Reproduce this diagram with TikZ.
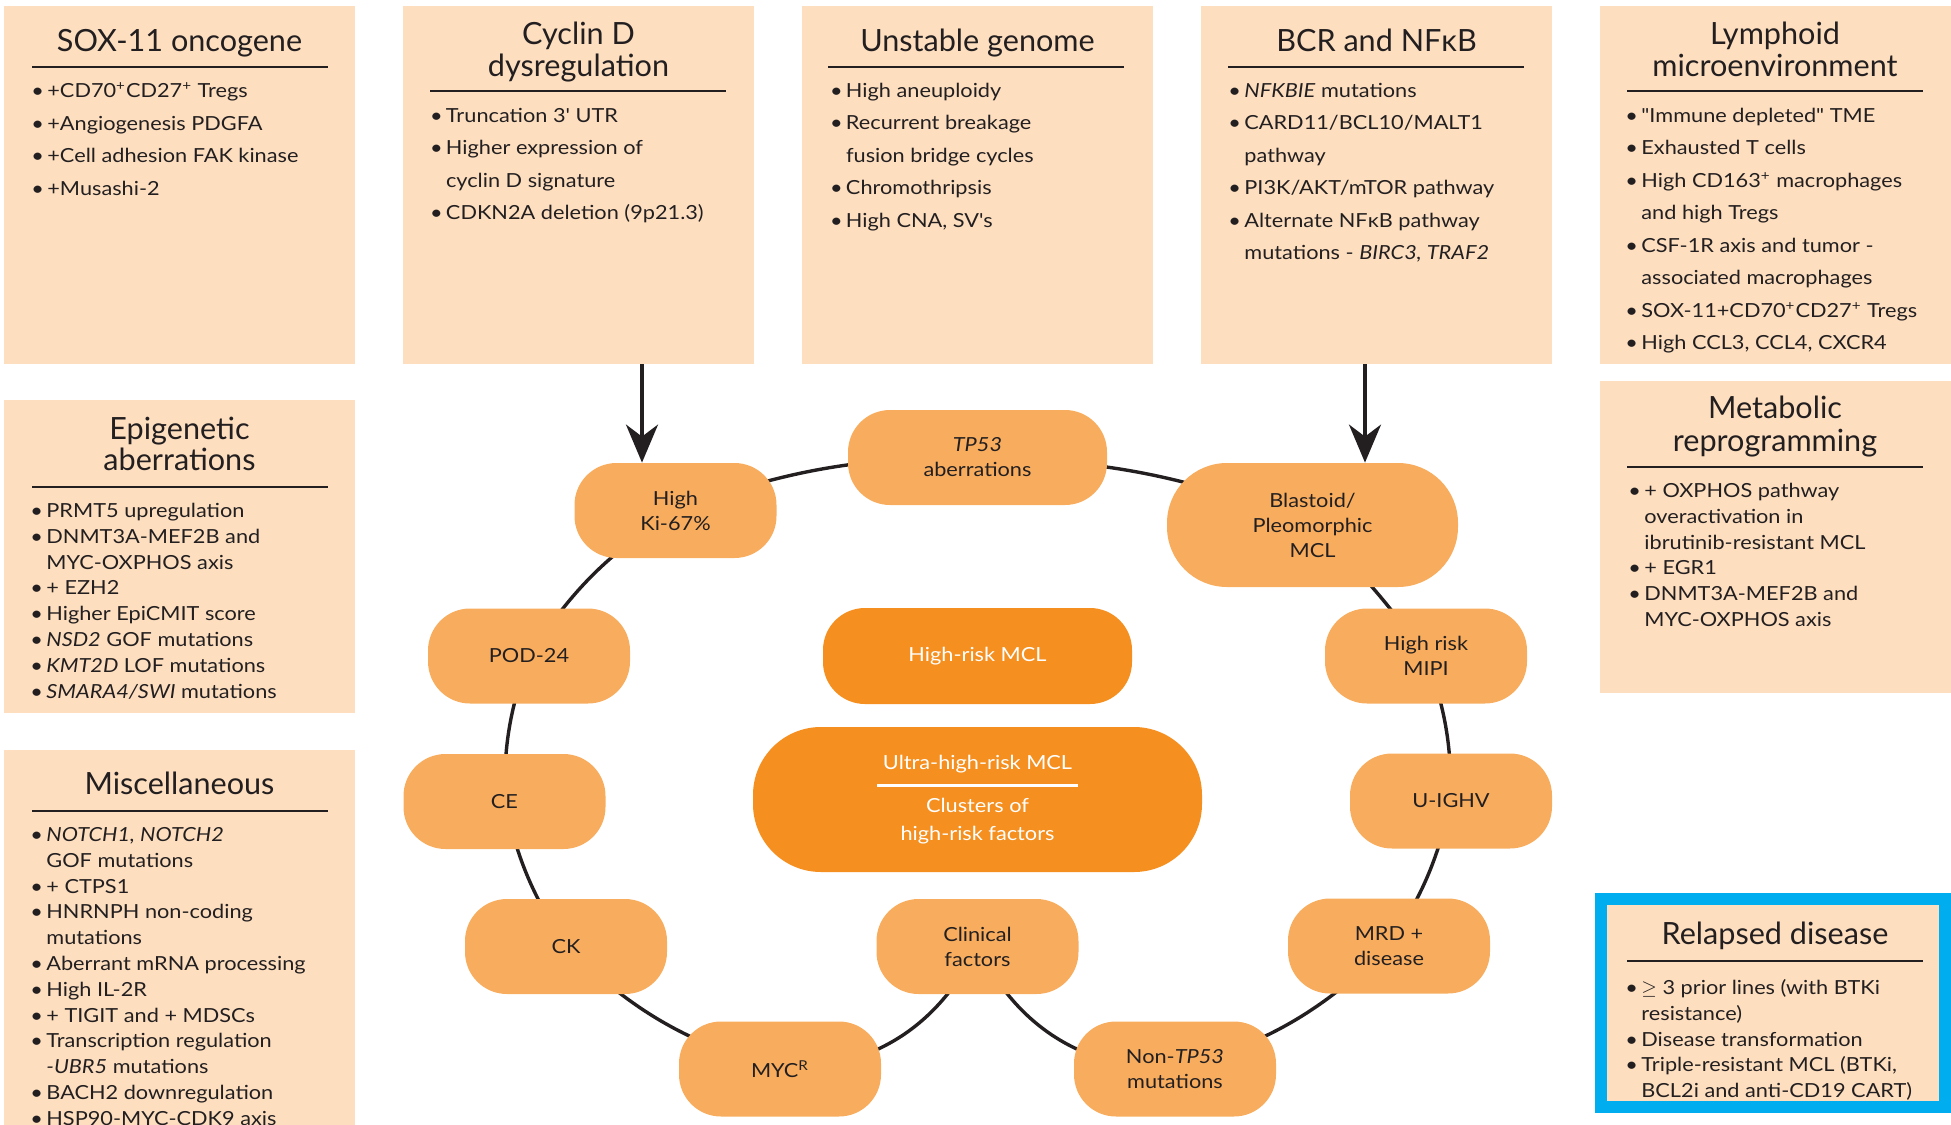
\documentclass[tikz,border=0pt]{standalone}
\usepackage{fontspec}
\setmainfont{Lato}
\newfontfamily\bodyfont{Lato}[FakeStretch=1.12]
\usetikzlibrary{arrows.meta,positioning,backgrounds}
\definecolor{panelbg}{HTML}{FDDFC0}
\definecolor{ringfill}{HTML}{F8AD5E}
\definecolor{corefill}{HTML}{F58F1F}
\definecolor{inkdark}{HTML}{231F20}
\definecolor{relapseblue}{HTML}{00AEEF}
\newcommand{\itembul}{\rule{0pt}{7.5pt}\makebox[8pt][l]{\textbullet}}
\newcommand{\itemcont}{\hspace*{8pt}}
\newcommand{\ttlstrut}{\rule{0pt}{12pt}}
\tikzset{
  panel/.style={fill=panelbg,anchor=north west,minimum width=175.5pt,inner sep=0pt,outer sep=0pt},
  paneltitle/.style={anchor=north,align=center,text=inkdark,inner sep=0pt,font=\fontsize{15.3}{16}\selectfont},
  panellist/.style={anchor=north west,align=left,text=inkdark,inner sep=0pt,font=\bodyfont\fontsize{9.7}{16.25}\selectfont},
  panellisttight/.style={panellist,font=\bodyfont\fontsize{9.7}{12.9}\selectfont},
  titlerule/.style={draw=inkdark,line width=1.3pt},
  risknode/.style={fill=ringfill,text=inkdark,rounded corners=21pt,minimum width=101pt,minimum height=47.5pt,align=center,inner sep=0pt,font=\bodyfont\fontsize{9.7}{12.5}\selectfont},
  corenode/.style={risknode,fill=corefill,text=white},
  ringline/.style={draw=inkdark,line width=1.7pt},
  feedarrow/.style={draw=inkdark,line width=1.8pt,-{Stealth[length=19pt,width=16pt,inset=6pt]}}
}
\begin{document}
\begin{tikzpicture}[x=1pt,y=-1pt]
  \useasboundingbox (0,0) rectangle (975.5,562.5);
  \clip (0,0) rectangle (975.5,562.5);

  % panels
  \node[panel,minimum height=179pt] (sox) at (2,3) {};
  \node[panel,minimum height=179pt] (cyclin) at (201.5,3) {};
  \node[panel,minimum height=179pt] (unstable) at (401,3) {};
  \node[panel,minimum height=179pt] (bcr) at (600.5,3) {};
  \node[panel,minimum height=179pt] (lymph) at (800,3) {};
  \node[panel,minimum height=156.5pt] (epi) at (2,200) {};
  \node[panel,minimum height=225pt] (misc) at (2,375) {};
  \node[panel,minimum height=156pt] (metab) at (800,190.5) {};
  \node[panel,draw=relapseblue,line width=6pt,minimum width=172pt,minimum height=104pt] (relapse) at (800.5,449.5) {};

  % panel titles
  \node[paneltitle] (soxT) at (89.75,13.5) {\ttlstrut SOX-11 oncogene};
  \node[paneltitle] (cyclinT) at (289.25,10) {\ttlstrut Cyclin D\\dysregulation};
  \node[paneltitle] (unstableT) at (488.75,13.5) {\ttlstrut Unstable genome};
  \node[paneltitle] (bcrT) at (688.25,13.5) {\ttlstrut BCR and NFκB};
  \node[paneltitle] (lymphT) at (887.5,10) {\ttlstrut Lymphoid\\microenvironment};
  \node[paneltitle,font=\fontsize{15.3}{15.5}\selectfont] (epiT) at (89.75,207.5) {\ttlstrut Epigenetic\\aberrations};
  \node[paneltitle] (miscT) at (89.75,385) {\ttlstrut Miscellaneous};
  \node[paneltitle,font=\fontsize{15.3}{16.5}\selectfont] (metabT) at (887.5,197) {\ttlstrut Metabolic\\reprogramming};
  \node[paneltitle] (relapseT) at (887.5,460) {\ttlstrut Relapsed disease};

  \foreach \x/\y in {16/33.5,215/45.5,414/33.5,614/33.5,813.5/45.5,16/243.5,16/405.5,813.5/233.5,813.5/480.5}
    \draw[titlerule] (\x,\y) -- ++(148,0);

  % panel lists
  \node[panellist] (soxL) at (15.5,41) {\itembul +CD70\textsuperscript{+}CD27\textsuperscript{+} Tregs\\
    \itembul +Angiogenesis PDGFA\\
    \itembul +Cell adhesion FAK kinase\\
    \itembul +Musashi-2};
  \node[panellist] (cyclinL) at (214.8,53.5) {\itembul Truncation 3' UTR\\
    \itembul Higher expression of\\
    \itemcont cyclin D signature\\
    \itembul CDKN2A deletion (9p21.3)};
  \node[panellist] (unstableL) at (414.8,41) {\itembul High aneuploidy\\
    \itembul Recurrent breakage\\
    \itemcont fusion bridge cycles\\
    \itembul Chromothripsis\\
    \itembul High CNA, SV's};
  \node[panellist] (bcrL) at (614,41) {\itembul \textit{NFKBIE} mutations\\
    \itembul CARD11/BCL10/MALT1\\
    \itemcont pathway\\
    \itembul PI3K/AKT/mTOR pathway\\
    \itembul Alternate NFκB pathway\\
    \itemcont mutations - \textit{BIRC3, TRAF2}};
  \node[panellist] (lymphL) at (812.5,53.5) {\itembul "Immune depleted" TME\\
    \itembul Exhausted T cells\\
    \itembul High CD163\textsuperscript{+} macrophages\\
    \itemcont and high Tregs\\
    \itembul CSF-1R axis and tumor -\\
    \itemcont associated macrophages\\
    \itembul SOX-11+CD70\textsuperscript{+}CD27\textsuperscript{+} Tregs\\
    \itembul High CCL3, CCL4, CXCR4};
  \node[panellisttight] (epiL) at (15,251) {\itembul PRMT5 upregulation\\
    \itembul DNMT3A-MEF2B and\\
    \itemcont MYC-OXPHOS axis\\
    \itembul + EZH2\\
    \itembul Higher EpiCMIT score\\
    \itembul \textit{NSD2} GOF mutations\\
    \itembul \textit{KMT2D} LOF mutations\\
    \itembul \textit{SMARA4/SWI} mutations};
  \node[panellisttight] (miscL) at (15,413) {\itembul \textit{NOTCH1, NOTCH2}\\
    \itemcont GOF mutations\\
    \itembul + CTPS1\\
    \itembul HNRNPH non-coding\\
    \itemcont mutations\\
    \itembul Aberrant mRNA processing\\
    \itembul High IL-2R\\
    \itembul + TIGIT and + MDSCs\\
    \itembul Transcription regulation\\
    \itemcont \textit{-UBR5} mutations\\
    \itembul BACH2 downregulation\\
    \itembul HSP90-MYC-CDK9 axis};
  \node[panellisttight] (metabL) at (814,241) {\itembul + OXPHOS pathway\\
    \itemcont overactivation in\\
    \itemcont ibrutinib-resistant MCL\\
    \itembul + EGR1\\
    \itembul DNMT3A-MEF2B and\\
    \itemcont MYC-OXPHOS axis};
  \node[panellisttight] (relapseL) at (812.5,489.5) {\itembul $\geq$ 3 prior lines (with BTKi\\
    \itemcont resistance)\\
    \itembul Disease transformation\\
    \itembul Triple-resistant MCL (BTKi,\\
    \itemcont BCL2i and anti-CD19 CART)};

  % risk factor ring
  \node[risknode] (ki67) at (337.75,255.25) {High\\Ki-67\%};
  \node[risknode,minimum width=129.5pt] (tp53) at (488.75,228.75) {\textit{TP53}\\aberrations};
  \node[risknode,minimum width=145.5pt,minimum height=62pt,rounded corners=30pt] (blast) at (656.25,262.5) {Blastoid/\\Pleomorphic\\MCL};
  \node[risknode] (mipi) at (713,328) {High risk\\MIPI};
  \node[risknode] (uighv) at (725.5,400.5) {U-IGHV};
  \node[risknode] (mrd) at (694.5,473) {MRD +\\disease};
  \node[risknode] (nontp) at (587.5,534.5) {Non-\textit{TP53}\\mutations};
  \node[risknode] (clin) at (488.75,473.25) {Clinical\\factors};
  \node[risknode] (myc) at (390,534.5) {MYC\textsuperscript{R}};
  \node[risknode] (ck) at (283,473.25) {CK};
  \node[risknode] (ce) at (252.25,400.75) {CE};
  \node[risknode] (pod) at (264.5,328) {POD-24};

  % centre
  \node[corenode,minimum width=154.5pt,minimum height=48pt] (hrmcl) at (488.75,328) {High-risk MCL};
  \node[corenode,minimum width=224.5pt,minimum height=72.5pt,rounded corners=34pt] (ultra) at (488.75,399.75)
    {Ultra-high-risk MCL\\[-3.85pt]\rule{100.5pt}{1.3pt}\\[0.35pt]Clusters of\\[1.5pt]high-risk factors};

  \begin{scope}[on background layer]
    \foreach \a/\b/\bnd in {ki67/tp53/10,tp53/blast/10,blast/mipi/5,mipi/uighv/10,uighv/mrd/10,mrd/nontp/14,nontp/clin/32,clin/myc/32,myc/ck/14,ck/ce/10,ce/pod/10,pod/ki67/12}
      \draw[ringline] (\a.center) to[bend left=\bnd] (\b.center);
  \end{scope}

  % arrows from the panels
  \coordinate (kiin) at ([xshift=-16.75pt]ki67.north);
  \coordinate (blin) at ([xshift=26.25pt]blast.north);
  \draw[feedarrow] (kiin |- cyclin.south) -- (kiin);
  \draw[feedarrow] (blin |- bcr.south) -- (blin);
\end{tikzpicture}
\end{document}
